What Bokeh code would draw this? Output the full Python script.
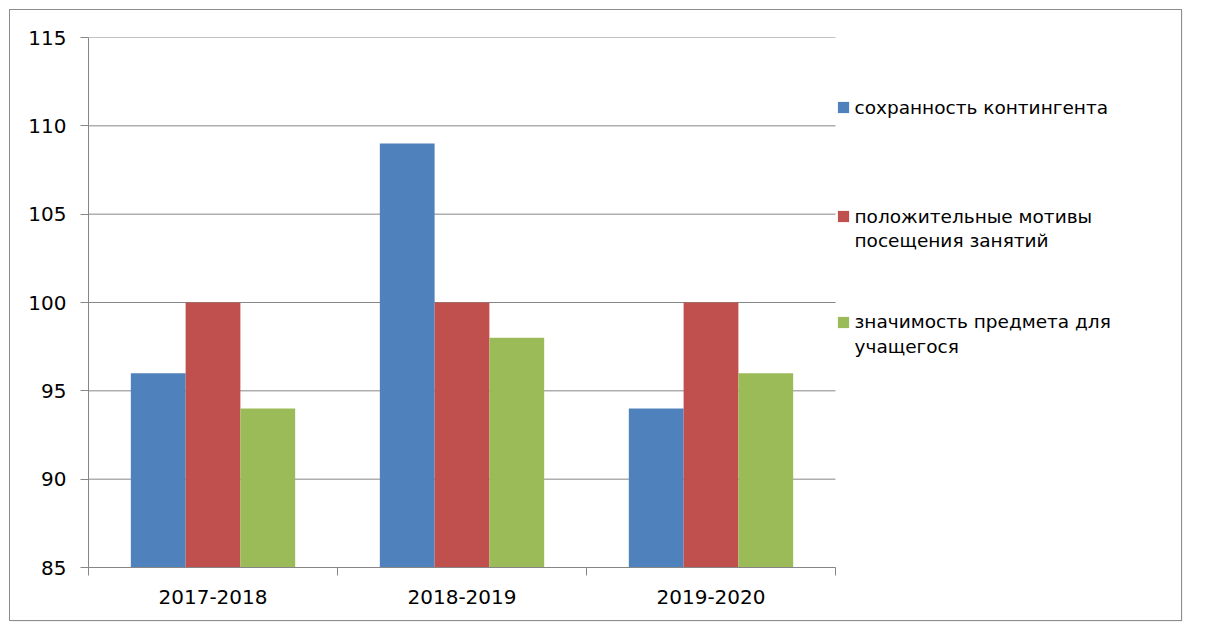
from bokeh.plotting import figure
from bokeh.models import Range1d, FixedTicker, Legend, LegendItem
from bokeh.embed import file_html
from bokeh.resources import INLINE

years = ["2017-2018", "2018-2019", "2019-2020"]
series_names = ["сохранность контингента",
                "положительные мотивы\nпосещения занятий",
                "значимость предмета для\nучащегося"]
s1 = [96, 109, 94]
s2 = [100, 100, 100]
s3 = [94, 98, 96]
colors = ["#4F81BD", "#C0504D", "#9BBB59"]
y_ticks = [85, 90, 95, 100, 105, 110, 115]

# layout (pixels)
W, H = 1171, 610
LEFT, TOP, BOTTOM = 78, 27, 53
PLOT_W = 747                      # width of the bar area
FRAME_W = W - LEFT
FRAME_H = H - TOP - BOTTOM
n = len(years)

p = figure(width=W, height=H, output_backend="svg", toolbar_location=None,
           x_range=Range1d(0, n * FRAME_W / PLOT_W), y_range=Range1d(85, 115),
           min_border_left=LEFT, min_border_right=0, min_border_top=TOP,
           min_border_bottom=BOTTOM)
p.frame_width = FRAME_W
p.frame_height = FRAME_H
p.outline_line_color = None
p.background_fill_color = "white"
p.border_fill_color = "white"
p.styles = {"margin-left": "10px", "margin-top": "10px",
            "outline": "1px solid #8c8c8c", "box-shadow": "1px 1px 1px #b0b0b0"}

# horizontal gridlines only across the bar area
p.xgrid.grid_line_color = None
p.ygrid.grid_line_color = None
p.segment(x0=0, x1=n, y0=y_ticks, y1=y_ticks, line_color="#868686", line_width=1)

width = 0.22
offsets = [-0.22, 0.0, 0.22]
renderers = []
for vals, off, c in zip([s1, s2, s3], offsets, colors):
    xs = [i + 0.5 + off for i in range(n)]
    r = p.vbar(x=xs, top=vals, bottom=85, width=width, fill_color=c, line_color=None)
    renderers.append(r)
dummy = p.vbar(x=[], top=[], width=0.1, fill_alpha=0, line_alpha=0)

# axes
p.xaxis.bounds = (0, n)
p.xaxis.ticker = FixedTicker(ticks=[i + 0.5 for i in range(n)],
                             minor_ticks=list(range(n + 1)))
p.xaxis.major_label_overrides = {i + 0.5: y for i, y in enumerate(years)}
p.xaxis.major_tick_line_color = None
p.xaxis.minor_tick_in = 0
p.xaxis.minor_tick_out = 8
p.xaxis.minor_tick_line_color = "#868686"
p.xaxis.axis_line_color = "#868686"
p.xaxis.major_label_text_font = "DejaVu Sans"
p.xaxis.major_label_text_font_size = "20px"
p.xaxis.major_label_text_color = "#000000"
p.xaxis.major_label_standoff = 14

p.yaxis.ticker = FixedTicker(ticks=y_ticks)
p.yaxis.minor_tick_line_color = None
p.yaxis.major_tick_in = 0
p.yaxis.major_tick_out = 8
p.yaxis.major_tick_line_color = "#868686"
p.yaxis.axis_line_color = "#868686"
p.yaxis.major_label_text_font = "DejaVu Sans"
p.yaxis.major_label_text_font_size = "20px"
p.yaxis.major_label_text_color = "#000000"
p.yaxis.major_label_standoff = 14

# legend: one line per Legend so each line can be placed freely
# line centres measured from the top of the bar area (pixels)
line_centres = [[70], [179, 203], [284.5, 309]]
ITEM_H = 22
for name, r, centres in zip(series_names, renderers, line_centres):
    for k, (line, yc) in enumerate(zip(name.split("\n"), centres)):
        leg = Legend(items=[LegendItem(label=line, renderers=[r if k == 0 else dummy])],
                     location=(PLOT_W + 0.5, FRAME_H - yc - ITEM_H / 2),
                     padding=0, margin=0, spacing=0,
                     glyph_width=14, glyph_height=14, label_standoff=5,
                     label_height=ITEM_H,
                     label_text_font="DejaVu Sans", label_text_font_size="18.5px",
                     label_text_color="#000000",
                     border_line_color=None, background_fill_alpha=0)
        p.add_layout(leg, "center")

open("out.html", "w").write(file_html(p, INLINE))
